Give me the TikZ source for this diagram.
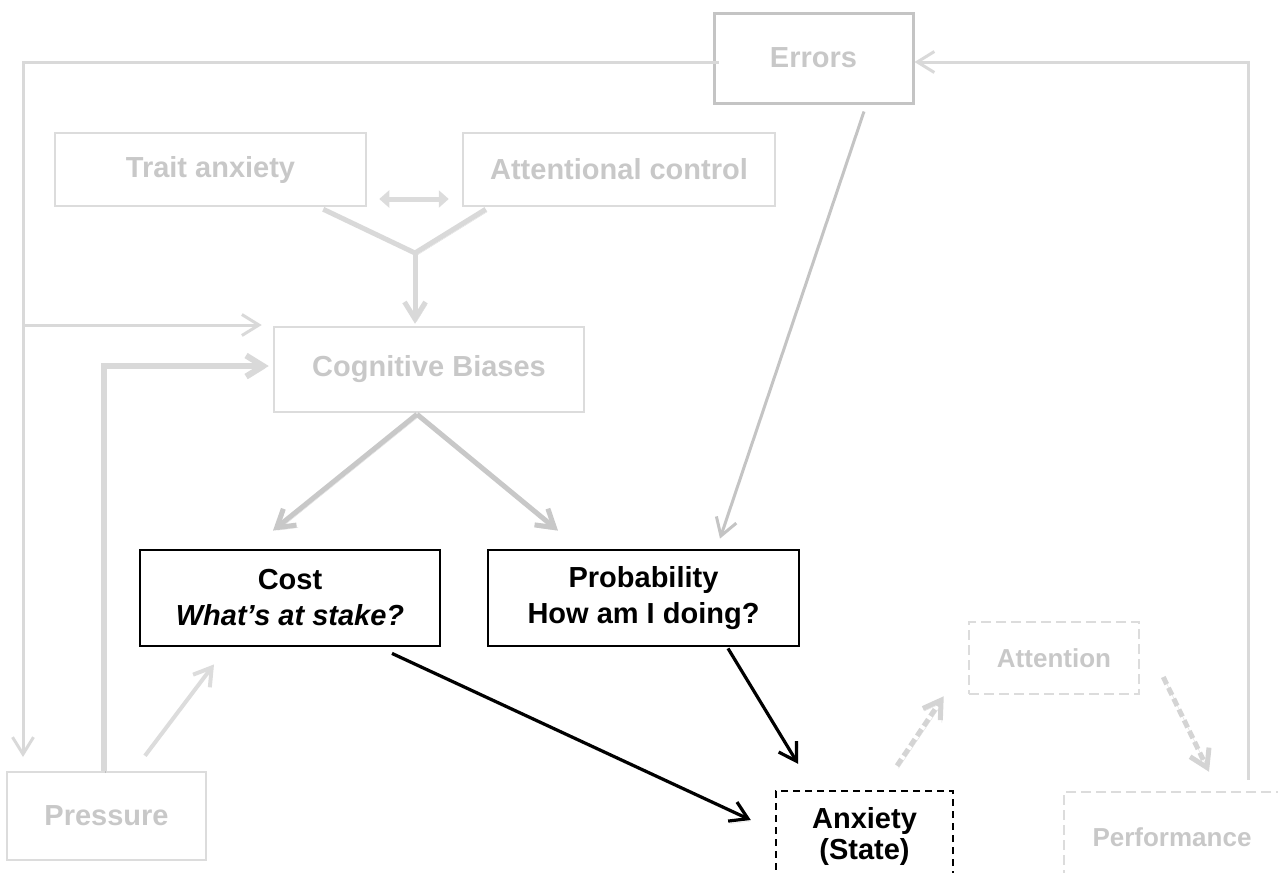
\documentclass[tikz,border=0pt]{standalone}
\usepackage{fontspec}
\setmainfont{Liberation Sans}
\usetikzlibrary{arrows.meta,calc}
\definecolor{boxgray}{HTML}{DCDCDC}
\definecolor{errgray}{HTML}{C4C4C4}
\definecolor{txtgray}{HTML}{C8C8C8}
\definecolor{linegray}{HTML}{D9D9D9}
\definecolor{arrgray}{HTML}{C8C8C8}
\definecolor{dashgray}{HTML}{D4D4D4}
\begin{document}
\begin{tikzpicture}[x=1pt,y=-1pt,
  base/.style={rectangle, inner sep=0pt, align=center,
    font=\fontsize{29}{36}\selectfont\bfseries},
  lightbox/.style={base, draw=boxgray, line width=2.5pt, text=txtgray},
  errbox/.style={base, draw=errgray, line width=3pt, text=txtgray},
  darkbox/.style={base, draw=black, line width=2.8pt, text=black},
  dashbox/.style={base, draw=black, line width=2.5pt, text=black,
    dash pattern=on 7pt off 5pt, font=\fontsize{29}{31}\selectfont\bfseries},
  faintbox/.style={base, draw=boxgray, line width=2.5pt, text=txtgray,
    dash pattern=on 10pt off 5pt, font=\fontsize{26}{31}\selectfont\bfseries},
  head/.style={-{Straight Barb[length=17pt,width=21pt]}},
  shade/.style={preaction={draw=black, draw opacity=0.13,
    transform canvas={shift={(1.5pt,-2.5pt)}}}},
  thinline/.style={draw=linegray, line width=3pt},
  errline/.style={draw=errgray, line width=3pt, head},
  fatgray/.style={draw=arrgray, line width=5pt, head, shade},
  fatlight/.style={draw=linegray, line width=6pt, head, shade},
  blackarrow/.style={draw=black, line width=3.2pt, head, shade},
  dasharrow/.style={draw=dashgray, line width=5pt, head, shade,
    dash pattern=on 8pt off 4pt},
]
\useasboundingbox (0,0) rectangle (1278,873);

% boxes
\node[errbox, minimum width=199pt, minimum height=90pt] (errors) at (813.5,58) {\raisebox{-2pt}{Errors}};
\node[lightbox, minimum width=311pt, minimum height=73pt] (trait) at (210.5,169.5) {Trait anxiety};
\node[lightbox, minimum width=312pt, minimum height=73pt] (actrl) at (619,169.5) {Attentional control};
\node[lightbox, minimum width=310pt, minimum height=85pt] (cb) at (429,369.5) {Cognitive Biases};
\node[darkbox, minimum width=300pt, minimum height=96pt] (cost) at (290,598) {Cost\\\itshape What’s at stake?};
\node[darkbox, minimum width=311pt, minimum height=96pt] (prob) at (643.5,598) {Probability\\How am I doing?};
\node[lightbox, minimum width=199pt, minimum height=88pt] (pressure) at (106.5,816) {Pressure};
\node[faintbox, minimum width=170pt, minimum height=72pt] (attn) at (1054,658) {Attention};
\node[dashbox, minimum width=177pt, minimum height=90pt] (anx) at (864.5,836) {Anxiety\\(State)};
\node[faintbox, minimum width=216pt, minimum height=90pt] (perf) at (1172,837) {Performance};

% corner points of the feedback loops
\coordinate (lt) at (23,62);
\coordinate (lb) at (23,757);
\coordinate (lm) at (23,325);
\coordinate (rc) at (1248,62);
\coordinate (yj) at (415,253);

% errors feed back to pressure and to the biases
\draw[thinline, head] (errors.west) ++(6,4) -- (lt) -- (lb);
\draw[thinline, head] (lm) -- ($(cb.west)+(-11,-44.5)$);

% performance loops back to errors
\draw[thinline, head] (perf.north -| rc) ++(0,-11) -- (rc) -- (errors.east |- rc);

% errors inform the probability estimate
\draw[errline] ($(errors.south)+(50.5,7)$) -- ($(prob.north)+(76.5,-10)$);

% trait anxiety and attentional control
\draw[draw=boxgray, line width=5pt, {Triangle[length=10pt,width=17pt]}-{Triangle[length=10pt,width=17pt]}]
  ($(trait.east)+(12,29.5)$) -- ($(actrl.west)+(-13,29.5)$);
\draw[draw=linegray, line width=5pt, shade, line join=miter]
  ($(trait.south east)+(-44,2)$) -- (yj) -- ($(actrl.south west)+(24,2)$);
\draw[draw=linegray, line width=5pt, head, shade] (yj) -- ($(cb.north)+(-14,-2)$);

% pressure
\draw[fatlight] (pressure.north) ++(-2.5,0) |- ($(cb.west)+(-4,-3.5)$);
\draw[draw=boxgray, line width=4pt, head] ($(pressure.north)+(38.5,-15)$) -- ($(cost.south)+(-76,17)$);

% biases split into cost and probability
\draw[fatgray] ($(cb.south)+(-12,1)$) -- ($(cost.north)+(-17,-18)$);
\draw[fatgray] ($(cb.south)+(-12,1)$) -- ($(prob.north)+(-85.5,-18)$);

% cost and probability drive state anxiety
\draw[blackarrow] ($(cost.south)+(102,6)$) -- ($(anx.west)+(-24,-16)$);
\draw[blackarrow] ($(prob.south)+(84.5,1)$) -- ($(anx.north)+(-66.5,-26)$);

% anxiety -> attention -> performance
\draw[dasharrow] ($(anx.north)+(32.5,-24)$) -- ($(attn.south west)+(-24,1)$);
\draw[dasharrow] ($(attn.east)+(23,19)$) -- ($(perf.north)+(37,-19)$);
\end{tikzpicture}
\end{document}
